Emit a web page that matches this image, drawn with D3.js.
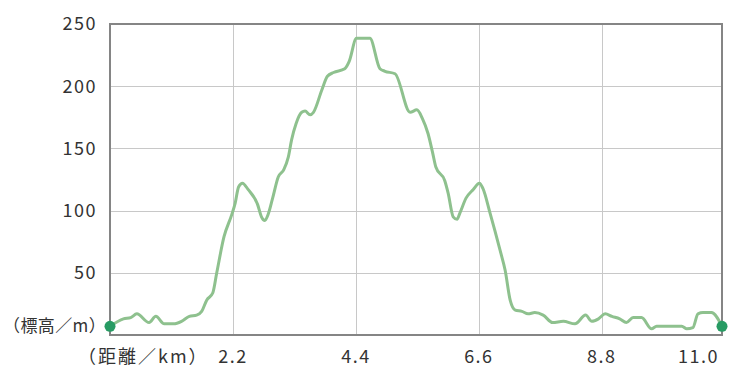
<!DOCTYPE html>
<html>
<head>
<meta charset="utf-8">
<script src="https://cdn.jsdelivr.net/npm/d3@7"></script>
<style>
  body { margin: 0; background: #fff; }
  text { font-family: "Noto Sans CJK JP", "Noto Sans", sans-serif; fill: #333; }
</style>
</head>
<body>
<div id="viz"></div>
<script>
const width = 750;
const height = 388;
const margin = { top: 24, right: 28, bottom: 53, left: 110 };

// distance (km) and elevation (m)
const distance = [0, 0.24, 0.37, 0.48, 0.70, 0.82, 0.97, 1.14, 1.28, 1.42, 1.55, 1.64, 1.73, 1.84, 1.91, 2.04, 2.18, 2.24, 2.30, 2.37, 2.47, 2.64, 2.71, 2.77, 2.83, 2.91, 3.01, 3.11, 3.19, 3.25, 3.33, 3.43, 3.49, 3.58, 3.64, 3.79, 3.89, 4.00, 4.20, 4.28, 4.41, 4.65, 4.83, 4.92, 5.10, 5.37, 5.49, 5.59, 5.69, 5.77, 5.83, 5.99, 6.05, 6.14, 6.21, 6.26, 6.37, 6.50, 6.61, 6.67, 6.80, 6.98, 7.07, 7.16, 7.25, 7.37, 7.48, 7.60, 7.75, 7.92, 8.11, 8.32, 8.51, 8.62, 8.74, 8.86, 8.98, 9.12, 9.24, 9.36, 9.51, 9.69, 9.78, 10.23, 10.32, 10.43, 10.52, 10.61, 10.76, 10.95];
const elevation = [7, 13, 14, 17, 10, 15, 9, 9, 11, 15, 16, 19, 28, 34, 50, 79, 97, 106, 119, 122, 117, 105, 95, 92, 97, 110, 127, 133, 143, 157, 170, 179, 180, 177, 179, 197, 208, 211, 214, 220, 238.5, 238.5, 214, 212, 210, 179, 181, 174, 162, 147, 135, 124, 114, 95, 93, 98, 110, 117, 122, 118, 98, 68, 52, 28, 20, 19, 17, 18, 16, 10, 11, 9, 16, 11, 13, 17, 15, 13, 10, 14, 14, 5, 7, 7, 5, 6, 17, 18, 18, 7];

const yTicks = [50, 100, 150, 200, 250];
const xTicks = [2.2, 4.4, 6.6, 8.8];
const totalLabel = '11.0';
const yTitle = '（標高／m）';
const xTitle = '（距離／km）';

const data = distance.map((d, i) => ({ km: d, m: elevation[i] }));

const w = width - margin.left - margin.right;
const h = height - margin.top - margin.bottom;

const x = d3.scaleLinear().domain([0, d3.max(distance)]).range([0, w]);
const y = d3.scaleLinear().domain([0, 250]).range([h, 0]);

const svg = d3.select('#viz').append('svg')
  .attr('width', width)
  .attr('height', height);

const chart = svg.append('g')
  .attr('transform', `translate(${margin.left}, ${margin.top})`);

// grid
chart.append('g')
  .selectAll('line')
  .data(yTicks.slice(0, -1))
  .enter().append('line')
  .attr('x1', 0).attr('x2', w)
  .attr('y1', d => Math.round(y(d)) + 0.5).attr('y2', d => Math.round(y(d)) + 0.5)
  .attr('stroke', '#c8c8c8');

chart.append('g')
  .selectAll('line')
  .data(xTicks)
  .enter().append('line')
  .attr('y1', 0).attr('y2', h)
  .attr('x1', d => Math.round(x(d)) + 0.5).attr('x2', d => Math.round(x(d)) + 0.5)
  .attr('stroke', '#c8c8c8');

// frame
chart.append('rect')
  .attr('x', 0).attr('y', 0)
  .attr('width', w).attr('height', h)
  .attr('fill', 'none')
  .attr('stroke', '#858585')
  .attr('stroke-width', 2);

// y labels
chart.append('g')
  .selectAll('text')
  .data(yTicks)
  .enter().append('text')
  .attr('x', -13)
  .attr('y', d => y(d))
  .attr('dy', '0.35em')
  .attr('text-anchor', 'end')
  .style('font-size', '18px')
  .style('letter-spacing', '1.5px')
  .text(d => d);

chart.append('text')
  .attr('x', -107)
  .attr('y', y(7))
  .attr('dy', '0.35em')
  .style('font-size', '17px')
  .style('letter-spacing', '0.4px')
  .text(yTitle);

// x labels
chart.append('g')
  .selectAll('text')
  .data(xTicks)
  .enter().append('text')
  .attr('x', d => x(d))
  .attr('y', h + 22)
  .attr('dy', '0.35em')
  .attr('text-anchor', 'middle')
  .style('font-size', '18px')
  .style('letter-spacing', '1.5px')
  .text(d => d.toFixed(1));

chart.append('text')
  .attr('x', w - 3)
  .attr('y', h + 22)
  .attr('dy', '0.35em')
  .attr('text-anchor', 'end')
  .style('font-size', '18px')
  .style('letter-spacing', '1.5px')
  .text(totalLabel);

chart.append('text')
  .attr('x', -32)
  .attr('y', h + 22)
  .attr('dy', '0.35em')
  .style('font-size', '18px')
  .style('letter-spacing', '2px')
  .text(xTitle);

// profile line
const line = d3.line()
  .x(d => x(d.km))
  .y(d => y(d.m))
  .curve(d3.curveMonotoneX);

chart.append('path')
  .datum(data)
  .attr('fill', 'none')
  .attr('stroke', '#8ec18e')
  .attr('stroke-width', 3)
  .attr('stroke-linejoin', 'round')
  .attr('d', line);

// start / end markers
chart.append('g')
  .selectAll('circle')
  .data([data[0], data[data.length - 1]])
  .enter().append('circle')
  .attr('cx', d => x(d.km))
  .attr('cy', d => y(d.m))
  .attr('r', 5.5)
  .attr('fill', '#279b63');
</script>
</body>
</html>
